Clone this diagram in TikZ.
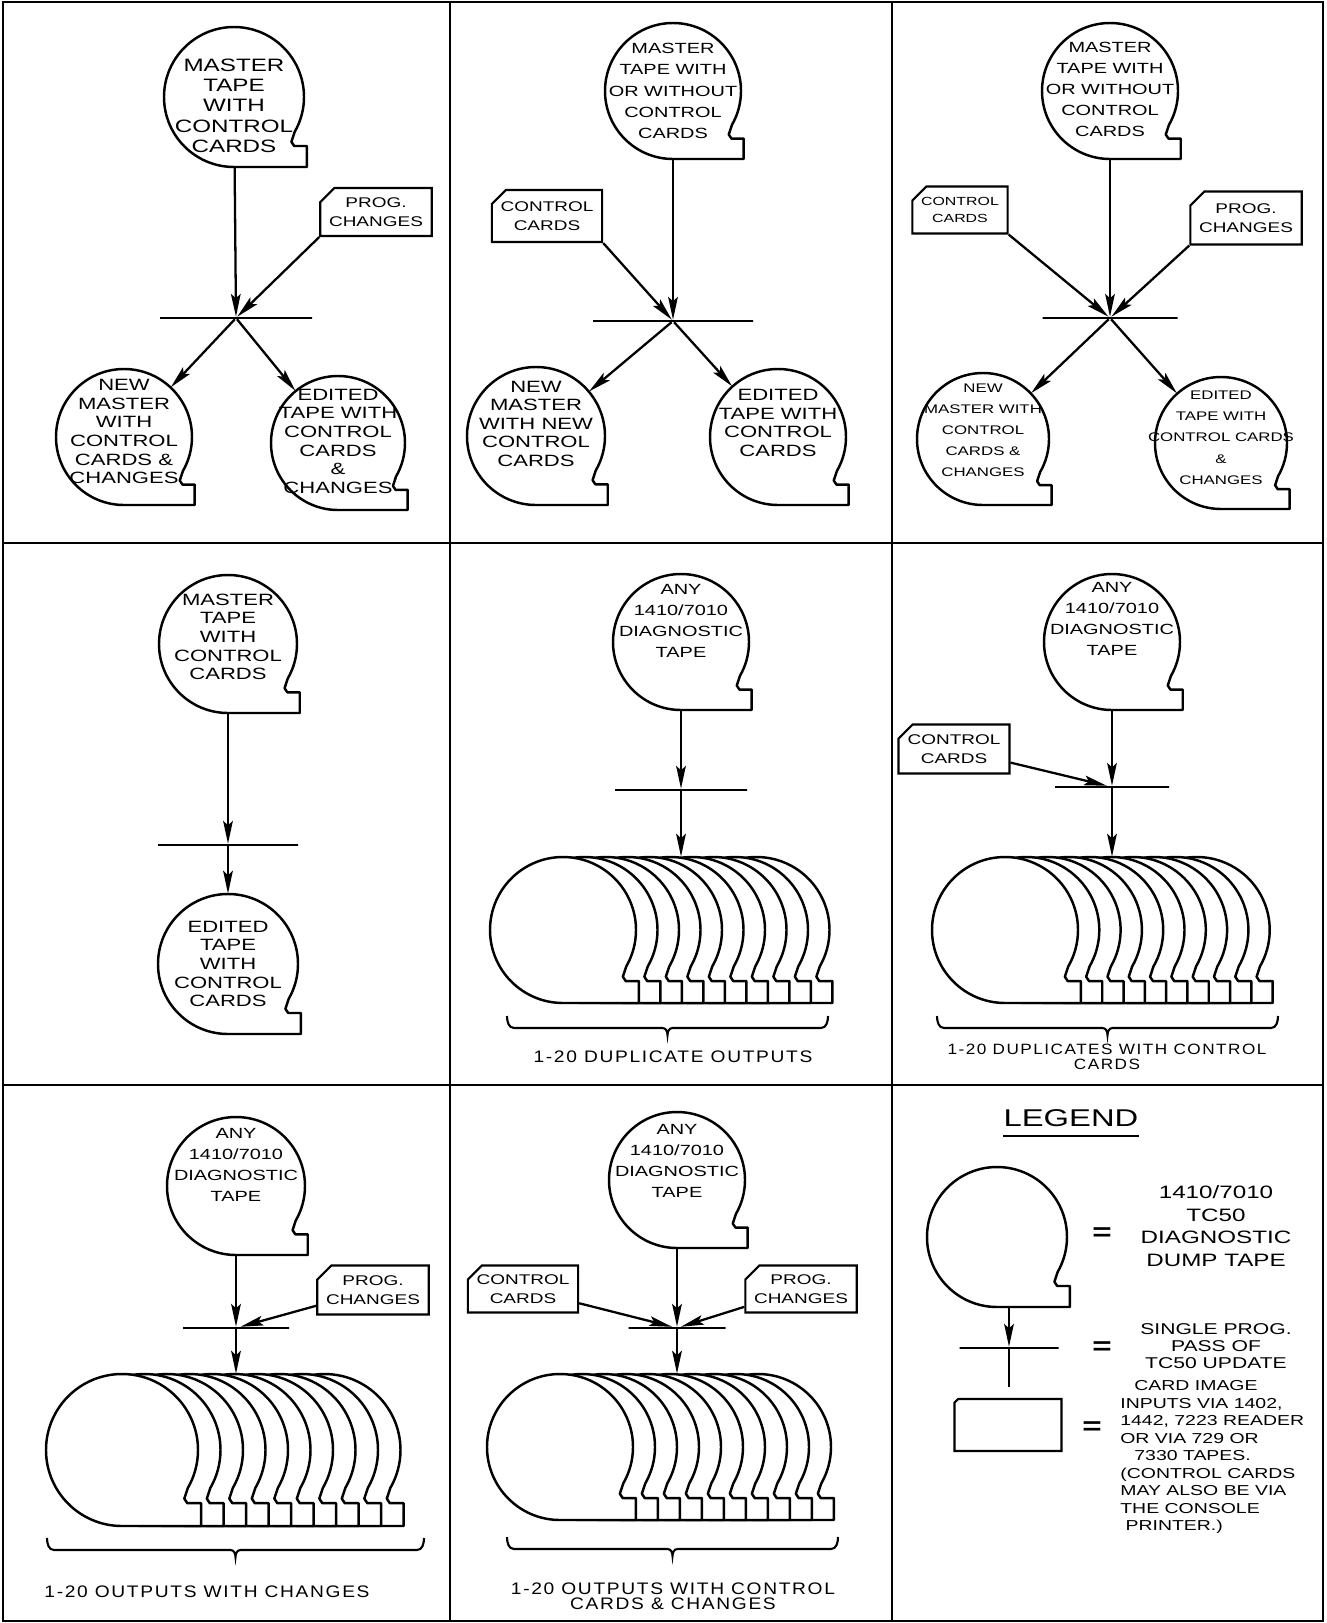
\documentclass[tikz,border=0pt]{standalone}
\usepackage{fontspec}
\setmainfont{Liberation Sans}
\newfontfamily\hand[FakeStretch=1.35]{Liberation Sans}
\newfontfamily\handspaced[FakeStretch=1.15, LetterSpace=10]{Liberation Sans}
\usetikzlibrary{arrows.meta, shapes.misc, calc}

% lettering
\newcommand\tapebig{\hand\fontsize{10.2}{11.6}\selectfont}
\newcommand\tapemid{\hand\fontsize{9.3}{10.6}\selectfont}
\newcommand\tapesmall{\hand\fontsize{8.4}{12}\selectfont}
\newcommand\tapetiny{\hand\fontsize{7.1}{12}\selectfont}
\newcommand\cardfont{\hand\fontsize{8}{11}\selectfont}
\newcommand\capfont{\handspaced\fontsize{9.5}{8.5}\selectfont}
\newcommand\legfont{\hand\fontsize{10.2}{13}\selectfont}

% outline of a reel with its tape end, centred on (0,0)
\newcommand{\reel}[1]{(0,-#1) arc[start angle=-90, delta angle=-300, radius=#1]
  -- ({0.82*#1},{-0.64*#1}) -- ({0.86*#1},{-0.7*#1}) -- ({1.04*#1},{-0.7*#1})
  -- ({1.04*#1},{-#1}) -- cycle}

% one reel: [text options]{name}{centre}{radius}{text}
\newcommand{\tape}[5][]{%
  \node[tape=#4] (#2) at (#3) {};
  \draw[tapeline, shift={(#2.center)}] \reel{#4};
  \node[tapetext, #1] (#2-txt) at (#2.center) {#5};
}

% pile of reels: {name}{front centre}{radius}{step}
\newcommand{\reelstack}[4]{%
  \foreach \k in {9,...,1}
    \draw[tapeline, fill=white, shift={($(#2)+(\k*#4,0)$)}] \reel{#3};
  \node[tape=#3] (#1) at (#2) {};
  \draw[tapeline, fill=white, shift={(#1.center)}] \reel{#3};
}

% flat brace under a pile: {left}{right}{level}
\newcommand{\outbrace}[3]{%
  \pgfmathsetmacro\bmid{(#1+#2)/2}
  \draw[brk] (#1,#3+12) to[out=-90,in=180] (#1+7,#3) -- (\bmid-5,#3)
    to[out=0,in=90] (\bmid,#3-7) to[out=90,in=180] (\bmid+5,#3)
    -- (#2-7,#3) to[out=0,in=-90] (#2,#3+12);
}

\tikzset{
  tape/.style={circle, inner sep=0pt, minimum size=2*#1*0.02cm},
  tapeline/.style={line width=1.4pt, line join=round},
  tapetext/.style={align=center, inner sep=0pt, font=\tapemid},
  card/.style={draw, line width=1.2pt, chamfered rectangle,
    chamfered rectangle corners=north west, chamfered rectangle xsep=4pt,
    chamfered rectangle ysep=4pt, align=center, inner sep=1pt, font=\cardfont},
  cardsize/.style 2 args={minimum width=#1*0.02cm, minimum height=#2*0.02cm},
  bar/.style={draw, line width=1.4pt, inner sep=0pt, minimum height=0pt, minimum width=#1*0.02cm},
  flow/.style={line width=1.3pt, -{Stealth[length=13pt, width=5.5pt, inset=2.5pt]}},
  panelline/.style={line width=1.2pt},
  brk/.style={line width=1.2pt},
  captext/.style={align=center, inner sep=0pt, font=\capfont},
  eqsign/.style={inner sep=0pt, font=\hand\bfseries\fontsize{14}{14}\selectfont},
}

\begin{document}
\begin{tikzpicture}[x=0.02cm, y=0.02cm]
    \useasboundingbox (0,0) rectangle (1326,-1623);

    % Frame and panel lines
    \draw[panelline] (3,-2) rectangle (1323,-1621);
    \draw[panelline] (450,-2) -- (450,-1621) (892,-2) -- (892,-1621);
    \draw[panelline] (3,-543) -- (1323,-543) (3,-1085) -- (1323,-1085);

    % Panel 1: master tape plus program changes
    \tape[font=\tapebig, yshift=-5pt]{t1}{234,-97}{70}{MASTER\\TAPE\\WITH\\CONTROL\\CARDS}
    \node[card, cardsize={103}{48}] (p1) at (376,-212) {PROG.\\CHANGES};
    \node[bar=152] (x1) at (236,-318) {};
    \tape[yshift=3pt]{o1a}{124,-437}{68}{NEW\\MASTER\\WITH\\CONTROL\\CARDS \&\\CHANGES}
    \tape[yshift=1pt]{o1b}{338,-443}{67}{EDITED\\TAPE WITH\\CONTROL\\CARDS\\\&\\CHANGES}
    \draw[flow] (t1) -- (x1);
    \draw[flow] (p1.south west) -- (x1);
    \draw[flow] (x1) -- (o1a);
    \draw[flow] (x1) -- (o1b);

    % Panel 2: master tape plus control cards
    \tape[font=\tapesmall]{t2}{673,-91}{68}{MASTER\\TAPE WITH\\OR WITHOUT\\CONTROL\\CARDS}
    \node[card, cardsize={101}{52}] (c2) at (547,-216) {CONTROL\\CARDS};
    \node[bar=160] (x2) at (673,-321) {};
    \tape[yshift=7pt]{o2a}{536,-436}{69}{NEW\\MASTER\\WITH NEW\\CONTROL\\CARDS}
    \tape[yshift=8pt]{o2b}{778,-437}{68}{EDITED\\TAPE WITH\\CONTROL\\CARDS}
    \draw[flow] (t2) -- (x2);
    \draw[flow] (c2.south east) -- (x2);
    \draw[flow] (x2) -- (o2a);
    \draw[flow] (x2) -- (o2b);

    % Panel 3: master tape plus control cards and changes
    \tape[font=\tapesmall, yshift=1pt]{t3}{1110,-91}{68}{MASTER\\TAPE WITH\\OR WITHOUT\\CONTROL\\CARDS}
    \node[card, cardsize={84}{47}, font=\hand\fontsize{6.7}{10}\selectfont] (c3a) at (960,-210) {CONTROL\\CARDS};
    \node[card, cardsize={95}{53}] (c3b) at (1246,-218) {PROG.\\CHANGES};
    \node[bar=135] (x3) at (1110,-318) {};
    \tape[font=\tapetiny, yshift=5pt]{o3a}{983,-439}{66}{NEW\\MASTER WITH\\CONTROL\\CARDS \&\\CHANGES}
    \tape[font=\tapetiny, yshift=3pt]{o3b}{1221,-443}{66}{EDITED\\TAPE WITH\\CONTROL CARDS\\\&\\CHANGES}
    \draw[flow] (t3) -- (x3);
    \draw[flow] (c3a.south east) -- (x3);
    \draw[flow] (c3b.south west) -- (x3);
    \draw[flow] (x3) -- (o3a);
    \draw[flow] (x3) -- (o3b);

    % Panel 4: edit only
    \tape[yshift=4pt]{t4}{228,-644}{69}{MASTER\\TAPE\\WITH\\CONTROL\\CARDS}
    \node[bar=140] (x4) at (228,-845) {};
    \tape{o4}{228,-964}{70}{EDITED\\TAPE\\WITH\\CONTROL\\CARDS}
    \draw[flow] (t4) -- (x4);
    \draw[flow] (x4) -- (o4);

    % Panel 5: duplicates
    \tape[font=\tapesmall, yshift=12pt]{t5}{681,-642}{68}{ANY\\1410/7010\\DIAGNOSTIC\\TAPE}
    \node[bar=132] (x5) at (681,-790) {};
    \reelstack{s5}{563,-930}{73}{21.5}
    \draw[flow] (t5) -- (x5);
    \draw[flow] (x5) -- (x5 |- s5.north);
    \outbrace{507}{828}{-1028}
    \node[captext] (cap5) at (673,-1057) {1-20 DUPLICATE OUTPUTS};

    % Panel 6: duplicates with control cards
    \tape[font=\tapesmall, yshift=13pt]{t6}{1112,-642}{68}{ANY\\1410/7010\\DIAGNOSTIC\\TAPE}
    \node[card, cardsize={111}{49}] (c6) at (954,-749) {CONTROL\\CARDS};
    \node[bar=114] (x6) at (1112,-787) {};
    \reelstack{s6}{1005,-930}{73}{21.3}
    \draw[flow] (t6) -- (x6);
    \draw[flow] (c6) -- (x6);
    \draw[flow] (x6) -- (x6 |- s6.north);
    \outbrace{937}{1278}{-1028}
    \node[captext, font=\handspaced\fontsize{8.5}{8.5}\selectfont] (cap6) at (1107,-1057) {1-20 DUPLICATES WITH CONTROL\\CARDS};

    % Panel 7: outputs with changes
    \tape[font=\tapesmall, yshift=12pt]{t7}{236,-1186}{69}{ANY\\1410/7010\\DIAGNOSTIC\\TAPE}
    \node[card, cardsize={103}{49}] (c7) at (373,-1290) {PROG.\\CHANGES};
    \node[bar=106] (x7) at (236,-1328) {};
    \reelstack{s7}{122,-1450}{76}{22.5}
    \draw[flow] (t7) -- (x7);
    \draw[flow] (c7) -- (x7);
    \draw[flow] (x7) -- (x7 |- s7.north);
    \outbrace{47}{424}{-1550}
    \node[captext] (cap7) at (207,-1592) {1-20 OUTPUTS WITH CHANGES};

    % Panel 8: outputs with control cards and changes
    \tape[font=\tapesmall, yshift=11pt]{t8}{677,-1180}{68}{ANY\\1410/7010\\DIAGNOSTIC\\TAPE}
    \node[card, cardsize={103}{47}] (c8a) at (523,-1289) {CONTROL\\CARDS};
    \node[card, cardsize={95}{47}] (c8b) at (801,-1289) {PROG.\\CHANGES};
    \node[bar=97] (x8) at (677,-1328) {};
    \reelstack{s8}{560,-1447}{73}{22}
    \draw[flow] (t8) -- (x8);
    \draw[flow] (c8a) -- (x8);
    \draw[flow] (c8b) -- (x8);
    \draw[flow] (x8) -- (x8 |- s8.north);
    \outbrace{507}{838}{-1549}
    \node[captext] (cap8) at (673,-1596) {1-20 OUTPUTS WITH CONTROL\\CARDS \& CHANGES};

    % Panel 9: legend
    \node[inner sep=0pt, font=\hand\fontsize{13.8}{16}\selectfont] (leg) at (1071,-1118) {LEGEND};
    \draw[line width=1.3pt] ([yshift=-5pt]leg.south west) -- ([yshift=-5pt]leg.south east);

    \tape{lt}{997,-1237}{70}{}
    \node[eqsign] (eq1) at (1102,-1234) {=};
    \node[align=center, inner sep=0pt, font=\legfont] (lt-d) at (1216,-1226) {1410/7010\\TC50\\DIAGNOSTIC\\DUMP TAPE};

    \node[bar=99] (lx) at (1009,-1348) {};
    \coordinate (la) at (1009,-1306);
    \coordinate (lb) at (1009,-1387);
    \draw[flow] (la) -- (lx);
    \draw[line width=1.3pt] (lx) -- (lb);
    \node[eqsign] (eq2) at (1102,-1348) {=};
    \node[align=center, inner sep=0pt, font=\hand\fontsize{8.9}{9.8}\selectfont] (lx-d) at (1216,-1346) {SINGLE PROG.\\PASS OF\\TC50 UPDATE};

    \node[card, cardsize={107}{52}] (lc) at (1008,-1425) {};
    \node[eqsign] (eq3) at (1092,-1428) {=};
    \node[align=left, inner sep=0pt, anchor=north west, font=\hand\fontsize{8.2}{10}\selectfont] (lc-d) at (1120,-1380)
        {\hspace*{8pt}CARD IMAGE\\INPUTS VIA 1402,\\1442, 7223 READER\\OR VIA 729 OR\\\hspace*{8pt}7330 TAPES.\\(CONTROL CARDS\\MAY ALSO BE VIA\\THE CONSOLE\\\hspace*{3pt}PRINTER.)};
\end{tikzpicture}
\end{document}
